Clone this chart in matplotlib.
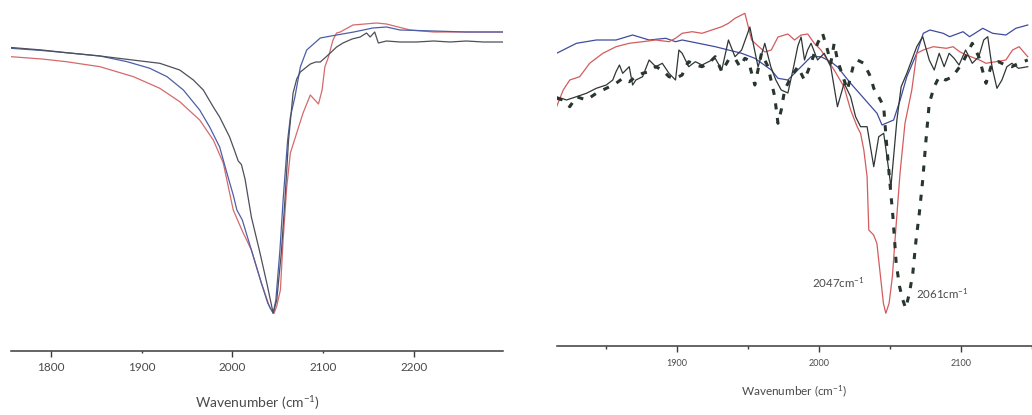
import matplotlib
matplotlib.use("Agg")
import matplotlib.pyplot as plt

plt.rcParams["font.family"] = ["Lato", "DejaVu Sans"]
plt.rcParams["mathtext.fontset"] = "custom"
plt.rcParams["mathtext.rm"] = "Lato"
plt.rcParams["mathtext.it"] = "Lato"

# ---------------- left panel: full CO band (relative transmittance, a.u.) ----------------
left_wn_gray = [1756, 1790, 1817, 1854, 1890, 1920, 1942, 1957, 1968, 1979, 1986, 1997,
                2003, 2006.5, 2010, 2014, 2021, 2030, 2038, 2045, 2049, 2054, 2058, 2062,
                2067, 2071, 2075, 2086, 2092, 2097, 2102, 2108, 2115, 2122, 2132, 2141,
                2148, 2152, 2157, 2161, 2170, 2185, 2203, 2222, 2240, 2258, 2277, 2299]
left_t_gray = [303.5, 301, 298.3, 295, 291, 287.7, 281, 271, 261, 244, 234, 214,
               199, 190, 186.5, 172, 134, 100, 68, 38, 51, 98, 151, 211,
               258, 272, 279, 287, 289, 289, 293, 298, 304, 308, 312, 314,
               318, 314, 319, 308, 310, 309, 309, 310, 309, 310, 309, 309]

left_wn_blue = [1756, 1790, 1817, 1854, 1884, 1909, 1928, 1946, 1964, 1975, 1986, 1994,
                2001, 2005, 2011, 2021, 2032, 2039, 2045, 2048, 2052.5, 2056, 2061, 2064,
                2069, 2075, 2082, 2097, 2115, 2134, 2155, 2170, 2185, 2222, 2258, 2299]
left_t_blue = [302.7, 300.5, 298.3, 295, 289.3, 282.7, 274.3, 261, 241, 224, 204, 178,
               156, 141, 131, 101, 68, 48, 37.7, 51, 101, 151, 211, 234,
               254, 284, 301, 313, 316, 319, 323, 324, 321, 320, 319, 319]

left_wn_red = [1756, 1790, 1817, 1854, 1891, 1920, 1942, 1964, 1979, 1990, 2001, 2011,
               2021, 2032, 2041.5, 2046, 2049, 2053, 2056, 2060, 2064, 2071, 2078, 2086,
               2091, 2095, 2099, 2102, 2106, 2111, 2115, 2119, 2133, 2159, 2170, 2196,
               2222, 2258, 2299]
left_t_red = [294.3, 292, 289.3, 284.3, 274.3, 262.7, 249.3, 231, 211, 188, 141, 120,
              101, 68, 43, 37.7, 45, 61, 111, 164, 198, 218, 238, 256,
              251, 247, 261, 284, 294, 311, 318, 319, 326, 328, 327, 321,
              319, 319, 319]

left_ticks = [1800, 1900, 2000, 2100, 2200]

# ---------------- right panel: expanded region ----------------
right_wn_blue = [1815.0, 1829.0, 1843.0, 1856.9, 1868.6, 1880.2, 1891.9, 1898.8, 1903.5,
                 1915.1, 1926.8, 1936.1, 1945.4, 1954.7, 1966.3, 1971.0, 1978.0, 1985.0,
                 1994.3, 2001.3, 2008.2, 2013.0, 2022.0, 2031.5, 2040.8, 2044.3, 2052.5,
                 2057.1, 2061.8, 2068.8, 2073.4, 2078.1, 2087.4, 2092.0, 2101.4, 2106.0,
                 2115.3, 2122.3, 2131.6, 2138.6, 2147.0]
right_t_blue = [292.7, 302.7, 306, 306, 311, 306, 307.7, 304.3, 306,
                302.7, 299.3, 296, 292.7, 287.7, 276, 267.7, 266, 276,
                289.3, 289.3, 284.3, 279, 263, 247.7, 232.7, 221, 226,
                246, 269.3, 292.7, 312.7, 316, 312.7, 309.3, 314.3, 309.3,
                317.7, 312.7, 311, 317.7, 321]

right_wn_red = [1815.0, 1819.7, 1824.3, 1831.3, 1838.3, 1847.6, 1856.9, 1866.2, 1875.6,
                1884.9, 1894.2, 1898.8, 1903.5, 1910.5, 1917.5, 1924.4, 1931.4, 1936.1,
                1940.7, 1947.7, 1952.4, 1957.0, 1961.7, 1966.3, 1971.0, 1978.0, 1982.7,
                1987.3, 1992.0, 1996.6, 2001.3, 2005.9, 2010.6, 2017.6, 2022.2, 2026.9,
                2029.2, 2031.5, 2033.8, 2035.0, 2038.4, 2040.7, 2043.0, 2045.3, 2047.0,
                2049.3, 2051.6, 2054.0, 2057.0, 2060.5, 2065.3, 2068.8, 2073.4, 2080.4,
                2089.7, 2094.4, 2099.0, 2103.7, 2113.0, 2117.6, 2124.6, 2131.6, 2136.3,
                2140.9, 2147.0]
right_t_red = [239.3, 256, 266, 269.3, 282.7, 292.7, 299.3, 302.7, 304.3,
               306, 304.3, 307.7, 312.7, 314.3, 312.7, 316, 319.3, 322.7,
               327.7, 332.7, 306, 300, 294, 296, 309, 312, 306,
               311, 312, 302.7, 296, 286, 276, 259, 236, 219,
               212.7, 196, 169.3, 116, 111, 102.7, 72.7, 42.7, 32.7,
               42.7, 69.3, 116, 172.7, 222.7, 256, 292.7, 296, 299.3,
               297.7, 299.3, 294.3, 291, 286, 282.7, 284.3, 286, 296,
               299.3, 289.3]

right_wn_black = [1815.0, 1822.0, 1829.0, 1836.0, 1843.0, 1850.0, 1854.6, 1856.9, 1859.3,
                  1861.6, 1863.9, 1866.2, 1868.6, 1870.9, 1875.6, 1880.2, 1884.9, 1889.5,
                  1894.2, 1898.8, 1901.2, 1903.5, 1908.1, 1912.8, 1917.5, 1922.1, 1926.8,
                  1931.4, 1936.1, 1940.7, 1945.4, 1951.2, 1954.5, 1957.0, 1961.7, 1966.0,
                  1969.5, 1973.3, 1978.0, 1982.0, 1985.0, 1987.3, 1989.7, 1991.9, 1994.3,
                  1998.9, 2003.6, 2008.2, 2012.9, 2017.6, 2022.2, 2025.7, 2029.2, 2033.8,
                  2038.5, 2042.0, 2045.5, 2047.8, 2050.6, 2054.8, 2057.8, 2061.8, 2065.3,
                  2068.8, 2073.0, 2077.6, 2081.1, 2084.6, 2088.1, 2091.6, 2095.1, 2098.6,
                  2103.2, 2107.9, 2112.5, 2116.0, 2118.8, 2121.8, 2125.3, 2128.8, 2132.3,
                  2135.8, 2140.5, 2147.0]
right_t_black = [249.3, 246, 249.3, 252.7, 257.7, 261, 266, 274.3, 281,
                 272.7, 276, 279.3, 261, 266, 269.3, 286, 279.3, 282.7,
                 272.7, 266, 296, 292.7, 279.3, 284.3, 281, 284.3, 287.7,
                 276, 306, 289.3, 296, 319, 296, 279, 302.7, 279,
                 266, 256, 253, 279, 300, 309, 286, 296, 302.7,
                 286, 292.7, 279.3, 239.3, 262.7, 249.3, 229.3, 219.3, 219.3,
                 179.3, 209.3, 212.7, 189.3, 159.3, 226, 259.3, 272.7, 286,
                 299.3, 309.3, 286, 276, 292.7, 279.3, 292.7, 287.7, 281,
                 296, 282.7, 289.3, 306, 309.3, 279.3, 257.7, 266, 279.3,
                 282.7, 277.7, 279.3]

right_wn_dash = [1815.0, 1819.7, 1824.3, 1829.0, 1836.0, 1843.0, 1847.6, 1852.3, 1856.9,
                 1861.6, 1866.2, 1870.9, 1875.6, 1880.2, 1884.9, 1889.5, 1894.2, 1898.8,
                 1903.5, 1905.8, 1908.1, 1912.8, 1917.5, 1922.1, 1926.8, 1931.4, 1936.1,
                 1940.7, 1944.2, 1947.7, 1950.0, 1954.7, 1959.4, 1964.0, 1968.7, 1971.0,
                 1973.3, 1975.7, 1980.3, 1985.0, 1989.6, 1994.3, 1998.9, 2002.4, 2005.9,
                 2008.2, 2010.6, 2012.9, 2017.6, 2019.9, 2024.5, 2026.9, 2031.5, 2036.2,
                 2038.5, 2043.2, 2045.5, 2047.3, 2049.7, 2052.0, 2054.3, 2056.7, 2059.0,
                 2061.0, 2063.6, 2066.0, 2068.3, 2070.6, 2073.0, 2075.3, 2077.6, 2081.1,
                 2084.6, 2089.2, 2093.9, 2100.9, 2107.9, 2112.5, 2117.6, 2121.8, 2126.5,
                 2131.1, 2135.8, 2140.5, 2147.0]
right_t_dash = [247.7, 246, 239.3, 249.3, 246, 252.7, 256, 259.3, 262.7,
                267.7, 264.3, 269.3, 272.7, 274.3, 279.3, 276, 269.3, 267.7,
                271, 279.3, 284.3, 281, 279.3, 282.7, 289.3, 274.3, 286,
                287.7, 279.3, 287.7, 286, 261, 292.7, 279.3, 249.3, 222.7,
                236, 256, 269.3, 279.3, 266, 282.7, 302.7, 312.7, 296,
                282.7, 302.7, 286, 266, 256, 282.7, 286, 282.7, 269.3,
                257.7, 246, 239.3, 206, 166, 129.3, 82.7, 59.3, 46,
                37.7, 52.7, 72.7, 106, 132.7, 166, 206, 242.7, 259.3,
                269.3, 266, 269.3, 282.7, 302.7, 289.3, 262.7, 282.7, 284.3,
                281, 279.3, 282.7, 286]

right_major_ticks = [1900, 2000, 2100]
right_minor_ticks = [1850, 1950, 2050, 2150]
peak_labels = [(2047, "2047cm$^{-1}$"), (2061, "2061cm$^{-1}$")]

W, H = 1032, 415
fig = plt.figure(figsize=(W / 100, H / 100), dpi=100)
fig.patch.set_facecolor("white")

axis_color = "#3a3a3a"
text_color = "#4a4a4a"


def frame(ax):
    for side in ("left", "right", "top"):
        ax.spines[side].set_visible(False)
    ax.spines["bottom"].set_color(axis_color)
    ax.spines["bottom"].set_linewidth(1.1)
    ax.set_yticks([])
    ax.set_facecolor("none")


# left axes: pixel 11..503 horizontally, axis line at pixel row 351
axL = fig.add_axes([11 / W, (H - 351) / H, 492 / W, 351 / H])
frame(axL)
axL.plot(left_wn_red, left_t_red, color="#d46a6e", lw=0.9)
axL.plot(left_wn_blue, left_t_blue, color="#4c5fa6", lw=0.9)
axL.plot(left_wn_gray, left_t_gray, color="#4d5059", lw=0.9)
axL.set_xlim(1755.9, 2298.5)
axL.set_ylim(0, 351)
axL.set_xticks(left_ticks)
axL.set_xticklabels([str(t) for t in left_ticks])
axL.tick_params(axis="x", direction="out", length=4, width=1, color=axis_color,
                labelsize=8.5, labelcolor=text_color, pad=4)
for i, tk in enumerate(axL.xaxis.get_major_ticks()):
    if left_ticks[i] % 200 != 0:
        tk.tick1line.set_markersize(1.5)
axL.set_xlabel("Wavenumber (cm$^{-1}$)", fontsize=10, color=text_color, labelpad=15)

# right axes: pixel 557..1032 horizontally, axis line at pixel row 346
axR = fig.add_axes([557 / W, (H - 346) / H, 475 / W, 346 / H])
frame(axR)
axR.plot(right_wn_blue, right_t_blue, color="#3f4c9e", lw=0.9)
axR.plot(right_wn_red, right_t_red, color="#d45b5e", lw=0.9)
axR.plot(right_wn_black, right_t_black, color="#2f3736", lw=0.9)
axR.plot(right_wn_dash, right_t_dash, color="#28362e", lw=2.2,
         linestyle=(0, (2.0, 2.8)), dash_capstyle="butt")
axR.set_xlim(1815.3, 2147.0)
axR.set_ylim(0, 346)
axR.set_xticks(right_major_ticks)
axR.set_xticks(right_minor_ticks, minor=True)
axR.set_xticklabels([str(t) for t in right_major_ticks])
axR.tick_params(axis="x", which="major", direction="out", length=4, width=1,
                color=axis_color, labelsize=6.5, labelcolor=text_color, pad=5)
axR.tick_params(axis="x", which="minor", direction="out", length=2, width=1,
                color=axis_color)
axR.set_xlabel("Wavenumber (cm$^{-1}$)", fontsize=8.5, color=text_color, labelpad=11)

# peak position labels
axR.text(2032, 58, peak_labels[0][1], ha="right", va="baseline", fontsize=8.3,
         color=text_color)
axR.text(2068.5, 47, peak_labels[1][1], ha="left", va="baseline", fontsize=8.3,
         color=text_color)

fig.savefig("out.png", dpi=100, facecolor="white")
